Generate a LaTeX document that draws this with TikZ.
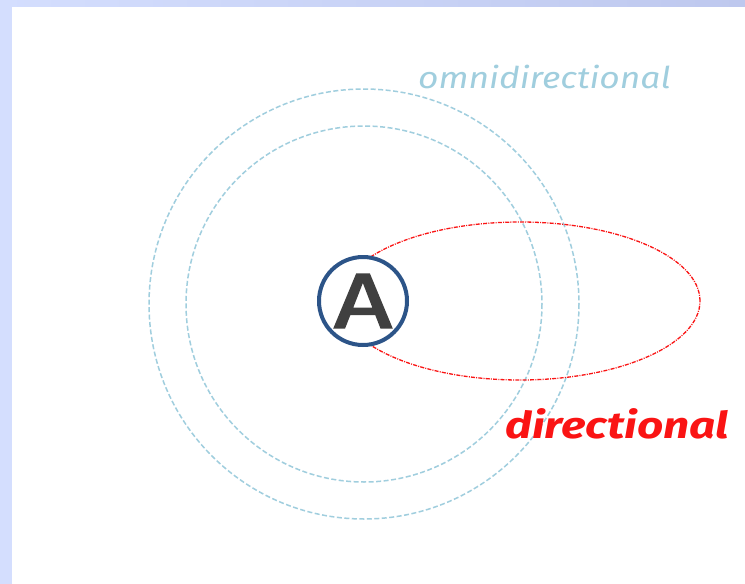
\documentclass[tikz,border=0pt]{standalone}
\usepackage{fontspec}
\setmainfont{Fira Sans}
\newfontfamily\afont[FakeBold=2]{Fira Sans}
\usetikzlibrary{shapes.geometric}
\definecolor{bgL}{RGB}{212,222,254}
\definecolor{bgR}{RGB}{190,200,238}
\definecolor{omni}{RGB}{160,206,222}
\definecolor{dirred}{RGB}{250,20,20}
\definecolor{abl}{RGB}{44,84,136}
\definecolor{agr}{RGB}{64,64,64}
\tikzset{
  omniring/.style={draw=omni,line width=1.5pt,dash pattern=on 5pt off 2.5pt},
  dirlobe/.style={draw=dirred,line width=1.3pt,dash pattern=on 4pt off 1.2pt on 1pt off 1.2pt},
  anode/.style={circle,draw=abl,line width=4pt,fill=white,minimum size=88pt,inner sep=0pt,text=agr},
  lbl/.style={inner sep=0pt,anchor=west}
}
\begin{document}
\begin{tikzpicture}[x=1pt,y=-1pt]
\shade[left color=bgL,right color=bgR] (0,0) rectangle (745,584);
\fill[white] (12,7) rectangle (745,584);
\useasboundingbox (0,0) rectangle (745,584);
\coordinate (c) at (364,304);
\draw[omniring] (c) circle[radius=215];
\draw[omniring] (c) circle[radius=178];
\node[dirlobe,ellipse,minimum width=360pt,minimum height=158pt,inner sep=0pt] (lobe) at (520,301) {};
\node[anode] (A) at (363,301) {\scalebox{1.3}[1]{\fontsize{78}{78}\selectfont\afont A}};
\node[lbl,text=omni] (omnilbl) at (418,77) {\scalebox{1.18}[1]{\fontsize{30}{30}\selectfont\itshape omnidirectional}};
\node[lbl,text=dirred] (dirlbl) at (505,424) {\scalebox{1.24}[1]{\fontsize{37}{37}\selectfont\bfseries\itshape directional}};
\end{tikzpicture}
\end{document}
